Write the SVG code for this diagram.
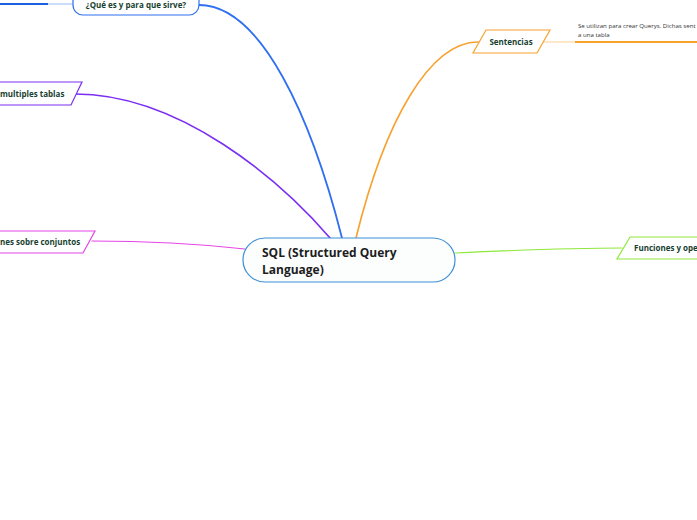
<svg xmlns="http://www.w3.org/2000/svg" width="697" height="520" viewBox="0 0 697 520">
<style>
  .lbl { font-family: "Open Sans", "Noto Sans", sans-serif; font-weight: bold; font-size: 8px; fill: #173f2f; }
  .main { font-family: "Open Sans", "Noto Sans", sans-serif; font-weight: bold; font-size: 12px; fill: #1d1d1d; }
  .note { font-family: "Open Sans", "Noto Sans", sans-serif; font-size: 6.1px; fill: #333; }
  .c { fill: none; stroke-linecap: round; }
  .box { fill: #ffffff; stroke-width: 1.2; }
</style>
<rect width="697" height="520" fill="#ffffff"/>
<g id="connectors">
  <path class="c" d="M199,5 C262,5 312,120 342,238" stroke="#2f6ff0" stroke-width="1.8"/>
  <path class="c" d="M75,94 C180,94 280,180 330,238" stroke="#7a2ff2" stroke-width="1.6"/>
  <path class="c" d="M92,241 C150,241 200,244 245,249" stroke="#e646e8" stroke-width="1.2"/>
  <path class="c" d="M478,42 C430,42 385,120 356,238" stroke="#f7a12f" stroke-width="1.6"/>
  <path class="c" d="M455,253 C520,250 570,248 622,248" stroke="#8ee83a" stroke-width="1.2"/>
  <path d="M0,4 H48" stroke="#1b5ee0" stroke-width="2" fill="none"/>
  <path d="M48,4 H73" stroke="#a9c6f7" stroke-width="1.2" fill="none"/>
  <path d="M543,42 H575" stroke="#fde0b5" stroke-width="1.5" fill="none"/>
  <path d="M575,42 H697" stroke="#f7a12f" stroke-width="2" fill="none"/>
</g>
<g id="node-que-es">
  <rect class="box" x="73" y="-10" width="126" height="25" rx="10" stroke="#2f6ff0"/>
  <text class="lbl" x="136" y="8" text-anchor="middle">¿Qué es y para que sirve?</text>
</g>
<g id="node-multiples">
  <polygon class="box" points="-10,82 82,82 71,105 -20,105" stroke="#7a2ff2"/>
  <text class="lbl" x="0" y="97">multiples tablas</text>
</g>
<g id="node-conjuntos">
  <polygon class="box" points="-10,231 95,231 83,253 -20,253" stroke="#e646e8"/>
  <text class="lbl" x="0" y="245">nes sobre conjuntos</text>
</g>
<g id="node-sentencias">
  <polygon class="box" points="486,30 550,30 537,53 473,53" stroke="#f7a12f"/>
  <text class="lbl" x="511" y="45" text-anchor="middle">Sentencias</text>
</g>
<g id="node-sentencias-note">
  <text class="note" x="578" y="28">Se utilizan para crear Querys. Dichas sent</text>
  <text class="note" x="578" y="37">a una tabla</text>
</g>
<g id="node-funciones">
  <polygon class="box" points="630,237 710,237 700,259 617,259" stroke="#8ee83a"/>
  <text class="lbl" x="634" y="251">Funciones y ope</text>
</g>
<g id="node-sql">
  <rect x="243" y="238" width="212" height="44" rx="22" fill="#fcfefe" stroke="#3d8fd6" stroke-width="1.2"/>
  <text class="main" x="262" y="257">SQL (Structured Query</text>
  <text class="main" x="262" y="274">Language)</text>
</g>
</svg>
